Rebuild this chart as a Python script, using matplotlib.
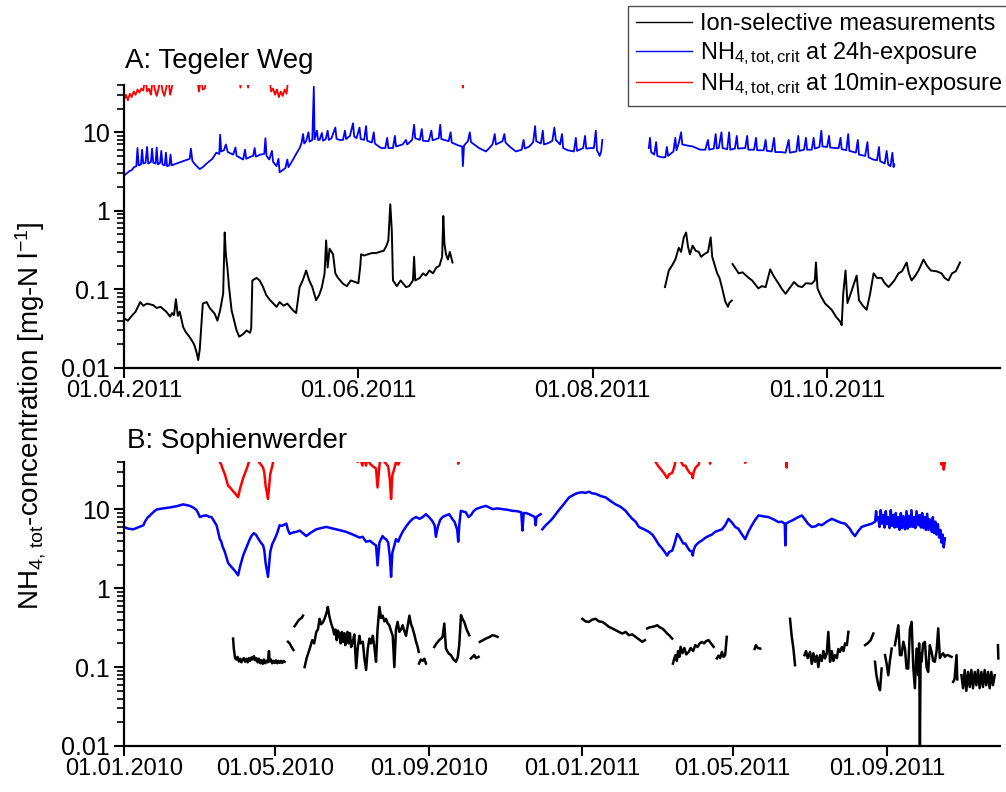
import datetime
import numpy as np
import matplotlib
matplotlib.use('Agg')
import matplotlib.pyplot as plt
import matplotlib.dates as mdates
from matplotlib.ticker import FixedLocator, NullFormatter

plt.rcParams['font.family'] = ['Liberation Sans', 'DejaVu Sans']
plt.rcParams['mathtext.fontset'] = 'custom'
plt.rcParams['mathtext.rm'] = 'Liberation Sans'
plt.rcParams['mathtext.it'] = 'Liberation Sans'
plt.rcParams['mathtext.bf'] = 'Liberation Sans'

nan = float('nan')

# ---- A: Tegeler Weg, (days after 01.04.2011, mg-N/l) ----
start_a = datetime.datetime(2011, 4, 1)

a_ion = [
    (0, 0.043), (1, 0.040), (2, 0.046), (3, 0.052), (4.2, 0.069), (5, 0.062), (6, 0.066),
    (7.6, 0.063), (8.5, 0.058), (9.5, 0.060), (11, 0.052), (12, 0.045), (12.5, 0.05),
    (13, 0.047), (13.5, 0.075), (14, 0.046), (14.5, 0.052), (15.4, 0.033), (16, 0.029),
    (17, 0.025), (18, 0.021), (18.4, 0.019), (19, 0.015), (19.3, 0.0126), (19.7, 0.017),
    (20.5, 0.066), (21.5, 0.069), (22.3, 0.058), (23.6, 0.049), (24.3, 0.040), (25, 0.054),
    (25.8, 0.088), (26.2, 0.53), (26.5, 0.28), (26.9, 0.19), (27.3, 0.11), (28, 0.054),
    (29.3, 0.030), (30, 0.025), (31, 0.027), (31.9, 0.030), (32.8, 0.028), (33.1, 0.032),
    (33.4, 0.13), (34.5, 0.14), (35.3, 0.13), (36.2, 0.107), (37, 0.085), (38, 0.073),
    (39, 0.065), (39.7, 0.06), (40.5, 0.069), (41.5, 0.062), (42.5, 0.066), (44, 0.054),
    (44.8, 0.05), (45.7, 0.107), (46.5, 0.13), (47.4, 0.174), (48.2, 0.13), (49, 0.107),
    (50, 0.073), (50.8, 0.085), (51.5, 0.107), (52.2, 0.16), (52.6, 0.42), (53, 0.19),
    (53.5, 0.33), (54.4, 0.28), (55, 0.16), (55.7, 0.14), (57, 0.118), (58, 0.11),
    (59, 0.13), (60, 0.125), (61, 0.12), (61.5, 0.2), (61.7, 0.28), (62.5, 0.27),
    (63.5, 0.28), (64.5, 0.29), (65.6, 0.29), (66.5, 0.30), (67.6, 0.31), (68.3, 0.36),
    (68.8, 0.42), (69.3, 1.21), (69.7, 0.56), (70, 0.13), (70.5, 0.12), (71, 0.11),
    (72, 0.13), (73.4, 0.107), (74.2, 0.11), (75.2, 0.13), (75.5, 0.26), (75.8, 0.13),
    (77, 0.14), (77.8, 0.16), (78.6, 0.15), (79.5, 0.174), (80.4, 0.16), (81.3, 0.19),
    (82.1, 0.2), (82.8, 0.26), (83.1, 0.86), (83.4, 0.38), (83.8, 0.28), (84.3, 0.24),
    (84.8, 0.3), (85.5, 0.22),
    (110, nan),
    (140.8, 0.107), (141.8, 0.174), (142.6, 0.2), (143.5, 0.24), (144.4, 0.34), (145, 0.3),
    (145.7, 0.46), (146.3, 0.53), (146.8, 0.35), (147.3, 0.28), (148, 0.36), (148.8, 0.31),
    (149.6, 0.3), (150.2, 0.26), (151, 0.28), (152, 0.3), (152.7, 0.46), (153.1, 0.26),
    (154.4, 0.16), (155, 0.14), (155.7, 0.103), (156.5, 0.07), (157.2, 0.06),
    (157.6, 0.068), (158.2, 0.072),
    (158.3, nan),
    (158.4, 0.21), (159, 0.19), (160, 0.16), (161, 0.165), (162.6, 0.14), (163.5, 0.13),
    (165.1, 0.103), (166, 0.11), (167, 0.107), (168.2, 0.18), (169, 0.15), (170.4, 0.118),
    (171.3, 0.1), (172.2, 0.088), (173, 0.1), (174.4, 0.124), (175.5, 0.11),
    (176.5, 0.107), (177.5, 0.12), (179, 0.118), (179.8, 0.13), (180.1, 0.22),
    (180.5, 0.103), (181.5, 0.08), (182.5, 0.066), (183.4, 0.06), (184.2, 0.055),
    (185.3, 0.045), (186.4, 0.039), (186.8, 0.035), (187.2, 0.088), (187.8, 0.174),
    (188.3, 0.067), (189.2, 0.09), (190.7, 0.15), (191.3, 0.073), (192.3, 0.062),
    (193.3, 0.055), (194.2, 0.088), (195.1, 0.16), (196, 0.14), (197.2, 0.14), (198, 0.12),
    (199, 0.107), (199.8, 0.118), (200.5, 0.13), (201.6, 0.16), (202.5, 0.17),
    (203.7, 0.22), (204.3, 0.16), (205, 0.13), (206, 0.15), (206.8, 0.174), (208.1, 0.24),
    (209, 0.2), (210, 0.174), (211.5, 0.17), (212.8, 0.16), (213.6, 0.14), (214.6, 0.13),
    (215.5, 0.16), (216.5, 0.17), (217.6, 0.22),
]

a_crit24 = [
    (0, 2.8), (0.7, 3.0), (1.4, 3.2), (2, 3.3), (2.6, 3.6), (3.2, 3.7), (3.5, 6.3),
    (3.8, 3.8), (4.4, 3.9), (4.7, 6.0), (5, 4.0), (5.6, 4.1), (6, 6.5), (6.3, 4.0),
    (7, 4.2), (7.3, 6.2), (7.6, 4.1), (8.2, 4.0), (8.5, 6.4), (8.8, 3.9), (9.4, 4.1),
    (9.7, 5.8), (10, 3.9), (10.6, 3.8), (10.9, 5.5), (11.2, 3.7), (11.8, 3.8), (12.1, 5.2),
    (12.4, 3.8), (17.1, 4.6), (17.4, 6.2), (17.8, 4.3), (18.5, 3.9), (19.7, 3.4),
    (20.5, 3.6), (21.5, 4.0), (22.3, 4.3), (23, 4.6), (24, 5.5), (24.8, 5.3), (25, 9.3),
    (25.3, 5.7), (26, 5.9), (26.5, 7.0), (27, 5.6), (28.4, 5.2), (29, 6.4), (29.3, 5.0),
    (30, 4.8), (31, 4.5), (31.5, 6.0), (31.8, 4.6), (33, 4.9), (33.6, 5.0), (34, 6.3),
    (34.3, 4.9), (35.5, 5.2), (36.5, 5.3), (36.8, 8.4), (37.1, 5.0), (37.8, 4.5),
    (38.5, 5.8), (38.8, 4.2), (39.7, 3.7), (40.2, 4.6), (40.5, 3.1), (41.3, 3.3), (42, 3.5),
    (42.5, 4.5), (42.8, 3.6), (44, 4.5), (44.8, 5.3), (45.7, 6.3), (46.2, 7.3), (46.6, 9.5),
    (46.9, 7.2), (47.4, 7.7), (48, 10.0), (48.3, 7.6), (49, 8.0), (49.4, 38), (49.6, 8.1),
    (50.2, 10.5), (50.5, 8.0), (50.9, 8.0), (51.5, 9.8), (51.8, 7.8), (52.5, 8.2),
    (53, 10.5), (53.3, 8.0), (54, 8.4), (55, 11.5), (55.3, 8.3), (56, 8.0), (57, 8.0),
    (57.5, 10.5), (57.8, 8.2), (58.8, 9.0), (59.6, 13.0), (59.9, 8.9), (60.5, 8.4),
    (61.3, 11.5), (61.6, 8.2), (62.5, 8.0), (63, 12.0), (63.3, 7.8), (64.5, 7.4),
    (65, 10.0), (65.3, 7.2), (65.6, 7.0), (66.5, 6.5), (67, 6.3), (68, 6.3), (68.5, 8.5),
    (68.8, 6.3), (70, 6.3), (70.5, 9.0), (70.8, 6.6), (72.5, 7.0), (73.4, 8.0), (73.7, 7.0),
    (75, 8.0), (75.5, 12.5), (75.8, 8.4), (77, 8.0), (77.5, 11.0), (77.8, 7.8), (79.3, 7.7),
    (80, 10.5), (80.3, 7.9), (81.9, 8.4), (82.3, 12.5), (82.6, 8.2), (84.5, 7.7),
    (85, 10.0), (85.3, 7.4), (87, 6.8), (88, 6.6), (88.2, 3.7), (88.5, 6.8), (89.5, 7.7),
    (90, 10.0), (90.3, 7.5), (92.4, 6.3), (94.2, 5.7), (95.2, 6.4), (95.9, 7.0), (96.5, 9.5),
    (96.8, 7.0), (98.5, 7.7), (99, 9.5), (99.3, 7.4), (100.5, 6.5), (102, 5.7),
    (103.5, 6.0), (104, 8.0), (104.3, 6.2), (105.5, 6.6), (106.5, 7.5), (107, 12.0),
    (107.3, 7.7), (108.5, 7.2), (109, 10.5), (109.3, 7.0), (110.5, 7.3), (111.5, 7.8),
    (112, 11.5), (112.4, 8.0), (113.5, 7.0), (114, 9.5), (114.3, 6.3), (115.5, 5.9),
    (117.1, 5.7), (117.6, 8.5), (117.9, 5.8), (119.5, 6.3), (120, 9.0), (120.3, 6.2),
    (121.5, 6.3), (122.3, 6.3), (122.8, 10.5), (123.1, 5.9), (123.8, 5.0), (124.2, 5.7),
    (124.5, 8.0),
    (130, nan),
    (136.6, 6.3), (136.9, 8.5), (137.2, 5.6), (138, 5.2), (138.5, 7.5), (138.8, 5.0),
    (140, 4.8), (140.9, 4.8), (141.3, 6.5), (141.6, 5.0), (143, 5.7), (143.5, 8.5),
    (143.8, 5.9), (144.4, 7.3), (145, 10.0), (145.3, 7.0), (146.5, 6.8), (148, 6.6),
    (149, 6.3), (150, 6.0), (151.3, 6.0), (152, 8.0), (152.3, 6.0), (153.5, 6.2), (154, 9.5),
    (154.3, 6.2), (154.8, 6.3), (155.5, 10.0), (155.8, 6.3), (157, 6.1), (157.5, 10.0),
    (157.8, 6.0), (159, 6.2), (159.5, 9.0), (159.8, 6.2), (161.7, 6.3), (162.2, 9.0),
    (162.5, 6.0), (164, 6.0), (164.5, 8.5), (164.8, 5.9), (166.5, 5.9), (167, 8.0),
    (167.3, 5.8), (168.6, 5.7), (169.2, 8.5), (169.5, 5.6), (171, 5.6), (172.2, 5.5),
    (173, 8.0), (173.3, 5.5), (175, 5.7), (175.5, 9.0), (175.8, 5.8), (177, 6.0),
    (177.5, 8.5), (177.8, 6.0), (179, 6.0), (179.5, 8.5), (179.8, 6.2), (181, 6.5),
    (181.5, 10.5), (181.8, 6.6), (183, 6.5), (183.5, 9.0), (183.8, 6.4), (185, 6.3),
    (186, 6.3), (186.5, 8.5), (186.8, 6.1), (188, 5.9), (188.5, 9.5), (188.8, 5.8),
    (189.4, 5.7), (190.5, 5.5), (191, 8.0), (191.3, 5.2), (192.9, 5.0), (193.5, 7.5),
    (193.8, 4.8), (195, 4.5), (196, 4.4), (196.5, 6.5), (196.8, 4.3), (198, 4.0),
    (198.5, 5.8), (198.9, 3.9), (199.5, 3.7), (200, 5.5), (200.3, 3.6), (200.5, 3.9),
]

a_crit10 = [
    (0, 26), (0.5, 30), (1, 25.5), (1.5, 31), (2, 28), (2.5, 33), (3, 30), (3.5, 35),
    (4, 32), (4.5, 36), (5, 34), (5.5, 50), (6, 33), (6.5, 36), (7, 30), (7.5, 50), (8, 35),
    (8.5, 29), (9, 36), (9.5, 50), (10, 34), (10.5, 29), (11, 37), (11.5, 50), (12, 30),
    (12.4, 36), (12.8, 50),
    (15, nan),
    (19, 50), (19.5, 33), (20, 50), (20.5, 35), (21, 36), (21.5, 50),
    (25, nan),
    (30, 50), (30.3, 37), (30.6, 50),
    (31, nan),
    (32, 50), (32.3, 37), (32.6, 50),
    (35, nan),
    (37.8, 50), (38.3, 33), (38.8, 36), (39.3, 30), (39.8, 35), (40.3, 28), (40.8, 33),
    (41.3, 29), (41.8, 35), (42.3, 31), (42.8, 50),
    (60, nan),
    (88, 50), (88.2, 37), (88.4, 50),
]

# ---- B: Sophienwerder, (days after 01.01.2010, mg-N/l) ----
start_b = datetime.datetime(2010, 1, 1)

b_ion = [
    (86.9, 0.23), (87.5, 0.17), (88.5, 0.13), (89.5, 0.125), (90.5, 0.135), (91.5, 0.118),
    (92.5, 0.128), (93.5, 0.115), (94.5, 0.125), (95.5, 0.13), (96.5, 0.117),
    (97.5, 0.128), (98.5, 0.115), (99.5, 0.13), (100.5, 0.12), (101.5, 0.133),
    (102.5, 0.125), (103.5, 0.138), (104.5, 0.122), (105.5, 0.13), (106.5, 0.115),
    (107.5, 0.128), (108.5, 0.112), (109.5, 0.122), (110.5, 0.11), (111.5, 0.125),
    (112.5, 0.112), (113.5, 0.12), (114.5, 0.115), (115.5, 0.16), (116, 0.118),
    (117, 0.125), (118, 0.112), (119, 0.12), (120, 0.113), (121, 0.122), (122, 0.112),
    (123, 0.12), (124, 0.113), (125, 0.12), (126, 0.113), (127, 0.12), (128, 0.117),
    (129, nan),
    (130.6, 0.21), (132, 0.2), (133.5, 0.18), (135, 0.165),
    (135.5, nan),
    (135.9, 0.33), (137.5, 0.36), (139.5, 0.4), (141.5, 0.42), (142.6, 0.45),
    (143.2, nan),
    (143.9, 0.10), (145.5, 0.13), (147.9, 0.17), (150, 0.22), (151.5, 0.2), (153.2, 0.28),
    (154.5, 0.3), (155.8, 0.41), (157, 0.35), (158.5, 0.37), (160, 0.42), (161.5, 0.5),
    (162.4, 0.58), (163.5, 0.45), (165, 0.36), (166.4, 0.31), (167.5, 0.26), (168.5, 0.3),
    (169.5, 0.22), (170.5, 0.29), (171.7, 0.25), (172.7, 0.2), (173.5, 0.28),
    (174.5, 0.21), (175.5, 0.27), (176.3, 0.19), (177, 0.24), (178, 0.28), (179, 0.2),
    (180, 0.27), (181, 0.18), (182.3, 0.21), (183.5, 0.26), (185, 0.097), (186.3, 0.18),
    (187.6, 0.25), (188.5, 0.2), (190.3, 0.21), (191.5, 0.13), (192.9, 0.092),
    (194.2, 0.17), (195.5, 0.23), (196.8, 0.2), (198.2, 0.25), (199.5, 0.18),
    (200.8, 0.117), (202, 0.3), (203.5, 0.58), (204.8, 0.42), (206.1, 0.45),
    (207.5, 0.38), (208.8, 0.41), (210, 0.36), (211.4, 0.34), (212.7, 0.29),
    (214.1, 0.25), (215.4, 0.1), (216.7, 0.3), (218, 0.375), (219.4, 0.28), (220.7, 0.3),
    (222, 0.34), (223.3, 0.29), (224.7, 0.25), (226, 0.33), (227.4, 0.45), (228.7, 0.35),
    (230, 0.31), (231.3, 0.26), (232.7, 0.21), (234, 0.18), (234.8, 0.156),
    (234.9, nan),
    (235, 0.111), (236.5, 0.125), (238, 0.12), (239.3, 0.128), (240.6, 0.111),
    (244, nan),
    (247.2, 0.18), (249, 0.2), (251.2, 0.22), (253.8, 0.24), (255.2, 0.357),
    (256.5, 0.172), (258.5, 0.15), (260.5, 0.142), (262.5, 0.125), (264.5, 0.117),
    (266, 0.135), (267.1, 0.19), (268.5, 0.455), (270, 0.4), (271.1, 0.375), (273, 0.3),
    (275.1, 0.254),
    (275.8, nan),
    (276.4, 0.129), (277.7, 0.135), (279.1, 0.142), (280.5, 0.13), (282.5, 0.135),
    (283, nan),
    (283.5, 0.209), (286, 0.22), (288.3, 0.23), (291, 0.24), (293.6, 0.254),
    (295.5, 0.25), (297.6, 0.242),
    (330, nan),
    (365.2, 0.41), (367.8, 0.38), (370.5, 0.375), (373, 0.4), (375.8, 0.41),
    (378.5, 0.38), (381.1, 0.375), (383.8, 0.35), (386.4, 0.324), (389, 0.31),
    (391.7, 0.294), (394.3, 0.28), (397, 0.267), (399.7, 0.28), (402.3, 0.254),
    (405, 0.26), (407.6, 0.242), (410.3, 0.225), (413, 0.209), (415.1, 0.22),
    (416, nan),
    (416.9, 0.31), (418.9, 0.32), (420.9, 0.324), (422.9, 0.33), (424.9, 0.34),
    (426.8, 0.32), (428.8, 0.31), (430.8, 0.29), (432.8, 0.267), (434.8, 0.25),
    (436.8, 0.23),
    (437.1, nan),
    (437.4, 0.111), (438.5, 0.13), (439.5, 0.142), (440.5, 0.12), (441.5, 0.16),
    (442.5, 0.135), (443.5, 0.181), (445, 0.15), (446.5, 0.175), (448, 0.145),
    (450, 0.156), (451.5, 0.175), (453.5, 0.16), (455.2, 0.19), (457, 0.18),
    (458.7, 0.2), (460.5, 0.209), (462.2, 0.2), (464, 0.215), (465.8, 0.22),
    (467.8, 0.2), (469.8, 0.181),
    (471, nan),
    (472.4, 0.129), (473.7, 0.14), (475, 0.13), (476.4, 0.156), (477.7, 0.135),
    (479, 0.142), (480.3, 0.242),
    (490, nan),
    (502.5, 0.17), (503.5, 0.19), (505, 0.175), (507, 0.172),
    (520, nan),
    (530.7, 0.41), (532, 0.25), (533.4, 0.172), (534.7, 0.106),
    (538, nan),
    (542.2, 0.142), (543.5, 0.16), (544.8, 0.13), (546.7, 0.156), (548, 0.11),
    (549.3, 0.15), (550.6, 0.117), (552, 0.14), (553.3, 0.1), (554.6, 0.142),
    (556, 0.12), (557.3, 0.16), (558.6, 0.129), (560, 0.15), (561.2, 0.28),
    (562.6, 0.117), (564, 0.16), (565.3, 0.12), (566.5, 0.142), (568, 0.13),
    (569.2, 0.17), (570.5, 0.156), (572, 0.18), (573.3, 0.16), (574.5, 0.2), (576, 0.19),
    (577.2, 0.28),
    (584, nan),
    (590.5, 0.19), (592.5, 0.2), (595, 0.22), (597.1, 0.267),
    (597.8, nan),
    (598.4, 0.117), (599.5, 0.08), (601.1, 0.059), (602.4, 0.051), (603.7, 0.096),
    (605, nan),
    (606.4, 0.142), (607.7, 0.11), (609, 0.079), (610.3, 0.12), (611.7, 0.172),
    (613, nan),
    (614.3, 0.19), (615.6, 0.25), (617, 0.34), (618.3, 0.142), (619.6, 0.142),
    (621, 0.21), (622.3, 0.172), (623.6, 0.096), (624.9, 0.096), (626.2, 0.3),
    (627.6, 0.375), (628.9, 0.1), (630.2, 0.054), (631.5, 0.172), (632.9, 0.079),
    (633.6, 0.2), (634.2, 0.0103), (634.8, 0.15), (635.5, 0.117), (636.8, 0.2),
    (638.2, 0.209), (639.5, 0.1), (640.8, 0.087), (642.1, 0.19), (643.5, 0.156),
    (644.8, 0.12), (646.1, 0.117), (647.5, 0.16), (648.8, 0.31), (650.1, 0.13),
    (651.4, 0.142), (652.7, 0.15), (654.1, 0.135), (655.4, 0.142), (656.7, 0.142),
    (658, 0.138), (659.4, 0.135),
    (660, nan),
    (660.7, 0.065), (661.8, 0.07), (663.4, 0.142), (664, 0.07),
    (666, nan),
    (667.3, 0.079), (668.6, 0.054), (669.9, 0.092), (671.2, 0.05), (672.6, 0.087),
    (673.9, 0.056), (675.2, 0.092), (676.5, 0.054), (677.9, 0.087), (679.2, 0.059),
    (680.5, 0.092), (681.8, 0.054), (683.2, 0.087), (684.5, 0.056), (685.8, 0.092),
    (687.1, 0.059), (688.5, 0.087), (689.8, 0.054), (691.1, 0.087), (692.4, 0.059),
    (693.8, 0.079),
    (695, nan),
    (696.4, 0.19), (696.7, 0.129),
]

b_crit24 = [
    (0, 5.97), (3.5, 5.7), (7.4, 5.6), (11, 5.9), (15.4, 6.3), (16.5, 6.9), (18.5, 7.8),
    (20.7, 8.4), (23.5, 9.3), (26, 10.0), (31, 10.3), (36.6, 10.6), (42, 11.0),
    (47.2, 11.6), (52.5, 11.1), (55.5, 10.5), (57.8, 9.8), (59, 9.0), (60.4, 8.0),
    (63, 8.3), (65.7, 8.4), (67.5, 8.1), (69.7, 8.0), (71.5, 7.2), (73.7, 6.3), (75, 5.2),
    (76.3, 4.2), (77.5, 3.9), (78.5, 3.4), (80.3, 2.9), (81.5, 2.5), (82.9, 2.1),
    (84.5, 1.95), (86.9, 1.77), (88.5, 1.65), (90.9, 1.46), (92.5, 1.9), (94.9, 2.6),
    (97.5, 3.3), (100.2, 4.2), (101.5, 4.6), (103.3, 5.0), (105, 4.8), (106.5, 4.4),
    (108.5, 3.9), (110.8, 3.5), (111.8, 3.0), (112.8, 2.1), (113.8, 1.7), (114.7, 1.4),
    (115.5, 1.9), (116.5, 2.9), (118, 3.6), (120, 4.2), (122, 5.0), (124, 6.3), (126, 6.2),
    (127.5, 6.4), (129.3, 6.6), (130.5, 5.6), (132, 4.9), (134.5, 5.1), (137.3, 5.2),
    (140, 5.4), (142.5, 5.0), (145.2, 4.6), (149, 5.1), (153.2, 5.6), (157, 5.8),
    (161.1, 6.0), (165, 5.8), (169, 5.6), (173, 5.4), (177, 5.2), (181, 4.9), (185, 4.6),
    (187.5, 4.4), (190.2, 4.5), (192.8, 3.9), (196, 4.0), (198.5, 3.7), (200.8, 3.5),
    (202, 1.95), (203.5, 3.8), (206, 4.6), (207.5, 4.3), (208.8, 4.2), (210.5, 3.8),
    (211.8, 2.5), (212.8, 1.4), (213.8, 2.8), (215.4, 3.5), (216.7, 4.2), (218.5, 3.9),
    (220, 4.5), (222, 5.2), (224.5, 6.0), (227.4, 6.9), (230, 7.6), (232.7, 8.0),
    (235.5, 7.6), (238, 8.0), (240.5, 8.7), (243, 8.0), (245.5, 7.2), (247.5, 6.3),
    (248.5, 4.5), (250, 6.0), (252, 7.4), (253.8, 8.0), (256.5, 8.4), (259.2, 8.7),
    (261.5, 7.6), (263.5, 6.9), (265.5, 5.5), (266.3, 3.9), (267.2, 6.5), (268.4, 9.6),
    (270.5, 9.4), (272.4, 9.2), (274.5, 8.0), (276.5, 8.5), (278.5, 9.5), (280.4, 10.1),
    (284, 10.6), (288.3, 11.1), (291, 10.6), (293.6, 10.1), (297.5, 10.3), (301.6, 10.1),
    (305.5, 9.9), (309.5, 9.6), (313.5, 9.5), (316.5, 9.2), (317.5, 5.4), (318.5, 9.0),
    (320.5, 9.0), (322.8, 8.7), (325.5, 8.3), (327.3, 8.0), (328, 6.3), (328.7, 8.0),
    (330.5, 8.4), (332, 8.7),
    (332.6, nan),
    (333.3, 5.6), (336, 6.3), (338.7, 6.9), (341.5, 7.7), (344, 8.7), (346.5, 9.8),
    (349.3, 11.1), (352, 12.6), (354.6, 14.2), (357.2, 15.0), (359.9, 15.8),
    (362.5, 16.3), (365.2, 16.5), (367.8, 16.2), (370.5, 16.8), (373, 16.0),
    (375.8, 15.8), (379.8, 14.8), (383.8, 14.2), (387.7, 12.8), (391.7, 11.6),
    (395.7, 10.8), (399.7, 9.6), (402.3, 8.5), (405, 7.6), (407.6, 7.0), (410.3, 6.0),
    (414.3, 5.6), (418.2, 5.2), (421, 4.8), (423.5, 4.2), (426, 3.6), (428.8, 3.2),
    (430.8, 2.9), (432.8, 2.6), (434.5, 2.9), (436.8, 3.0), (438.5, 3.6), (440.8, 4.9),
    (442.3, 4.6), (444, 4.1), (445.6, 3.7), (447.3, 3.7), (449, 3.3), (450.8, 3.0),
    (452.6, 2.9), (453.2, 2.6), (454, 3.1), (455.5, 3.5), (457.9, 3.8), (461, 4.1),
    (463.5, 4.4), (465.8, 4.6), (468.5, 4.8), (471, 5.2), (473.8, 5.4), (476.5, 5.6),
    (479, 6.3), (481.7, 7.6), (484.5, 6.8), (487, 6.0), (489.5, 5.7), (492.5, 4.8),
    (495, 4.2), (497.5, 5.2), (500.3, 6.3), (503, 7.4), (505.6, 8.4), (509, 8.2),
    (513.6, 8.0), (517.5, 7.5), (521.5, 6.9), (524, 7.0), (526.5, 6.6), (527, 3.5),
    (527.5, 6.6), (529.5, 6.9), (532.1, 7.2), (536, 7.8), (540.1, 8.4), (542.5, 7.5),
    (545, 6.6), (548, 6.0), (551, 6.1), (553.5, 6.5), (556, 6.3), (560, 7.0), (564, 7.6),
    (567.5, 7.2), (571, 6.8), (574.6, 6.6), (578, 5.8), (580.5, 5.0), (582.5, 4.6),
    (585, 5.3), (587.8, 6.0), (591.5, 6.3), (595.8, 6.6), (598.5, 7.0), (599.3, 9.5),
    (600, 7.3), (601.1, 8.0), (602, 6.0), (603, 9.8), (604, 6.6), (605, 8.5), (606, 5.9),
    (607, 9.5), (608, 6.5), (609, 8.0), (610, 5.8), (611, 9.8), (612, 6.2), (613, 8.5),
    (614, 5.9), (615, 9.0), (616, 6.0), (617, 8.0), (618, 5.5), (619, 9.0), (620, 5.8),
    (621, 8.2), (622.3, 5.6), (623.5, 9.5), (624.5, 5.7), (625.5, 8.3), (626.5, 6.0),
    (627.5, 9.8), (628.5, 6.0), (629.5, 8.0), (630.5, 5.8), (631.5, 9.5), (632.9, 6.3),
    (634, 8.5), (635, 5.9), (636, 9.0), (637, 5.8), (638, 8.0), (639, 5.5), (640, 8.8),
    (641, 5.5), (642, 7.5), (643.5, 5.2), (644.5, 8.0), (645.5, 5.0), (646.5, 7.0),
    (647.5, 4.8), (648.5, 6.5), (649.5, 4.4), (650.5, 5.5), (651.4, 3.8), (652.3, 4.8),
    (653.2, 3.3), (654.1, 4.3),
]

b_crit10 = [
    (74, 50), (76.3, 40), (77.5, 37), (78.5, 33), (80.3, 28), (81.5, 24), (82.9, 20),
    (84.5, 19), (86.9, 17), (88.5, 16), (90.9, 14.3), (92.5, 18.5), (94.9, 25),
    (97.5, 32), (99.5, 40), (100.5, 50),
    (103, nan),
    (106, 50), (106.5, 42), (108.5, 38), (110.8, 34), (111.8, 29), (112.8, 20),
    (113.8, 16.5), (114.7, 13.6), (115.5, 18.5), (116.5, 28), (118, 35), (119.5, 45),
    (150, nan),
    (185, 50), (186, 40), (187, 50), (190, 36), (191, 50), (192.8, 36), (194, 45),
    (196, 38), (198.5, 35), (200.8, 33), (202, 19), (203.5, 36), (205, 50), (207.5, 40),
    (208.8, 38), (210.5, 35), (211.8, 24), (212.8, 13.6), (213.8, 27), (215.4, 33),
    (216.7, 40), (218.5, 37), (220, 42), (222, 50),
    (240, nan),
    (266, 50), (266.3, 38), (266.6, 50),
    (300, nan),
    (421, 50), (423.5, 40), (426, 35), (428.8, 31), (430.8, 28), (432.8, 25),
    (434.5, 28), (436.8, 29), (438.5, 35), (440, 45), (442.3, 44), (444, 40),
    (445.6, 36), (447.3, 36), (449, 32), (450.8, 29), (452.6, 28), (453.2, 25), (454, 30),
    (455.5, 34), (457.9, 37), (459.5, 50),
    (462, nan),
    (466.5, 50), (467, 38), (467.5, 50),
    (480, nan),
    (494.5, 50), (495, 39), (495.5, 50),
    (510, nan),
    (527.5, 50), (528, 34), (528.5, 50),
    (600, nan),
    (647, 50), (649.5, 42), (650.5, 50), (651.4, 37), (652.3, 45), (653.2, 32),
    (654.1, 40),
]

a_ticks = [datetime.datetime(2011, m, 1) for m in (4, 6, 8, 10)]
b_ticks = [datetime.datetime(2010, 1, 1), datetime.datetime(2010, 5, 1),
           datetime.datetime(2010, 9, 1), datetime.datetime(2011, 1, 1),
           datetime.datetime(2011, 5, 1), datetime.datetime(2011, 9, 1)]
y_ticks = [0.01, 0.1, 1, 10]
y_labels = ['0.01', '0.1', '1', '10']
y_minor = [k * 10.0 ** e for e in (-2, -1, 0, 1) for k in range(2, 10) if k * 10.0 ** e <= 40]


def draw(ax, start, pts, **kw):
    d, v = zip(*pts)
    x = mdates.date2num(start) + np.array(d)
    return ax.plot(x, v, **kw)[0]


def style(ax, start, xmax, ticks):
    ax.set_xlim(mdates.date2num(start), mdates.date2num(start) + xmax)
    ax.set_xticks(mdates.date2num(ticks))
    ax.xaxis.set_major_formatter(mdates.DateFormatter('%d.%m.%Y'))
    ax.spines['top'].set_visible(False)
    ax.spines['right'].set_visible(False)
    ax.spines['left'].set_linewidth(1.6)
    ax.spines['bottom'].set_linewidth(1.6)
    ax.tick_params(axis='x', which='major', direction='out', length=7, width=1.5,
                   labelsize=17, pad=2)
    ax.set_yscale('log')
    ax.set_ylim(0.01, 40)
    ax.yaxis.set_major_locator(FixedLocator(y_ticks))
    ax.set_yticklabels(y_labels)
    ax.tick_params(axis='y', which='major', direction='out', length=7, width=1.5,
                   labelsize=18, pad=3)


def minor_ticks(ax):
    ax.set_yticks(y_minor, minor=True)
    ax.yaxis.set_minor_formatter(NullFormatter())
    ax.tick_params(axis='y', which='minor', direction='out', length=5, width=1.2,
                   left=True, color='black')


fig = plt.figure(figsize=(10.06, 7.92), dpi=100)
ax_a = fig.add_axes([0.1233, 0.5354, 0.8707, 0.3573])
ax_b = fig.add_axes([0.1233, 0.0581, 0.8707, 0.3586])

l_ion = draw(ax_a, start_a, a_ion, color='black', lw=1.4)
l_24 = draw(ax_a, start_a, a_crit24, color='#0000ff', lw=1.3)
l_10 = draw(ax_a, start_a, a_crit10, color='#ff0000', lw=1.3)
style(ax_a, start_a, 228, a_ticks)

draw(ax_b, start_b, b_ion, color='black', lw=1.8)
draw(ax_b, start_b, b_crit24, color='#0000ff', lw=1.8)
draw(ax_b, start_b, b_crit10, color='#ff0000', lw=1.8)
style(ax_b, start_b, 698, b_ticks)

fig.text(125 / 1006, 1 - 68 / 792, 'A: Tegeler Weg', fontsize=20, va='baseline')
fig.text(127 / 1006, 1 - 448 / 792, 'B: Sophienwerder', fontsize=20, va='baseline')
fig.text(0.031, 1 - 416 / 792,
         r'NH$_{\mathrm{4,\,tot}}$-concentration [mg-N l$^{\mathrm{-1}}$]',
         rotation=90, ha='center', va='center', fontsize=20)

leg = fig.legend([l_ion, l_24, l_10],
                 ['Ion-selective measurements',
                  r'NH$_{\mathrm{4,tot,crit}}$ at 24h-exposure',
                  r'NH$_{\mathrm{4,tot,crit}}$ at 10min-exposure'],
                 loc='upper right', bbox_to_anchor=(1.004, 0.992), fontsize=17,
                 frameon=True, fancybox=False, edgecolor='0.3', framealpha=1,
                 handlelength=2.4, handletextpad=0.35, borderpad=0.3,
                 labelspacing=0.2, borderaxespad=0)
leg.get_frame().set_linewidth(1.0)
for h in leg.get_lines():
    h.set_linewidth(1.0)

minor_ticks(ax_a)
minor_ticks(ax_b)

fig.savefig('out.png', dpi=100)
